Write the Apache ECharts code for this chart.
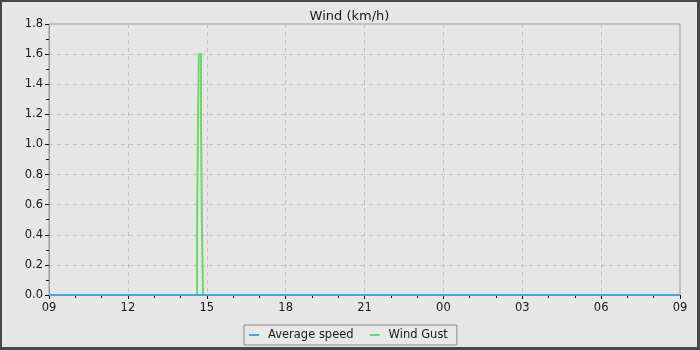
<!DOCTYPE html>
<html><head><meta charset="utf-8">
<script src="https://cdn.jsdelivr.net/npm/echarts@6/dist/echarts.min.js"></script>
<style>
html,body{margin:0;padding:0;background:#e6e6e6;}
#frame{position:absolute;left:0;top:0;width:700px;height:350px;box-sizing:border-box;border-style:solid;border-color:#474747;border-width:2px 3px 3px 2px;}
#chart{width:695px;height:345px;}
</style></head>
<body><div id="frame"><div id="chart"></div></div>
<script>
const titleText = 'Wind (km/h)';
const seriesNames = ['Average speed', 'Wind Gust'];
// x values are hours since midnight of the first day (09 -> 33 = 09 next day)
const avgHours = [9, 33];
const avgValues = [0, 0];
const gustHours = [9, 14.63, 14.67, 14.70, 14.78, 14.82, 14.86, 33];
const gustValues = [0, 0.4, 1.2, 1.6, 1.2, 0.4, 0, 0];
const xMin = 9, xMax = 33, xStep = 3;
const yMin = 0, yMax = 1.8, yStep = 0.2;

const font = 'DejaVu Sans';
const chart = echarts.init(document.getElementById('chart'));
const pair = (xs, ys) => xs.map((x, i) => [x, ys[i]]);
chart.setOption({
  backgroundColor: '#e6e6e6',
  animation: false,
  title: {text: titleText, left: 'center', top: 3,
    textStyle: {fontFamily: font, fontSize: 13, fontWeight: 'normal', color: '#1a1a1a'}},
  grid: {left: 47, right: 17, top: 22, bottom: 52, show: true,
    borderColor: '#9a9a9a', borderWidth: 1, backgroundColor: '#e6e6e6'},
  legend: {data: seriesNames, left: 242, top: 323, orient: 'horizontal',
    icon: 'rect', itemWidth: 10, itemHeight: 2, itemGap: 16,
    backgroundColor: '#e8e8e8', borderColor: '#8a8a8a', borderWidth: 1,
    padding: [4, 9, 4, 5],
    textStyle: {fontFamily: font, fontSize: 11.5, color: '#1a1a1a', padding: [0, 0, 0, 4]}},
  xAxis: {type: 'value', min: xMin, max: xMax, interval: xStep,
    axisLine: {show: true, lineStyle: {color: '#9a9a9a'}},
    axisTick: {show: true, length: 4, lineStyle: {color: '#111'}},
    minorTick: {show: true, splitNumber: 3, length: 3, lineStyle: {color: '#111'}},
    axisLabel: {fontFamily: font, fontSize: 11.5, color: '#1a1a1a', margin: 7,
      formatter: v => String(v % 24).padStart(2, '0')},
    splitLine: {show: true, lineStyle: {color: '#c2c2c2', type: [4, 4]}}},
  yAxis: {type: 'value', min: yMin, max: yMax, interval: yStep,
    axisLine: {show: true, lineStyle: {color: '#9a9a9a'}},
    axisTick: {show: true, length: 4, lineStyle: {color: '#111'}},
    minorTick: {show: true, splitNumber: 2, length: 3, lineStyle: {color: '#111'}},
    axisLabel: {fontFamily: font, fontSize: 11.5, color: '#1a1a1a', margin: 6,
      formatter: v => v.toFixed(1)},
    splitLine: {show: true, lineStyle: {color: '#c2c2c2', type: [4, 4]}}},
  series: [
    {name: seriesNames[0], type: 'line', data: pair(avgHours, avgValues),
      showSymbol: false, z: 4, color: '#45a5dc', lineStyle: {width: 2, color: '#45a5dc'}},
    {name: seriesNames[1], type: 'line', step: 'end', data: pair(gustHours, gustValues),
      showSymbol: false, z: 3, color: '#6ad86a', lineStyle: {width: 2, color: '#6ad86a'}}
  ]
});
</script></body></html>
